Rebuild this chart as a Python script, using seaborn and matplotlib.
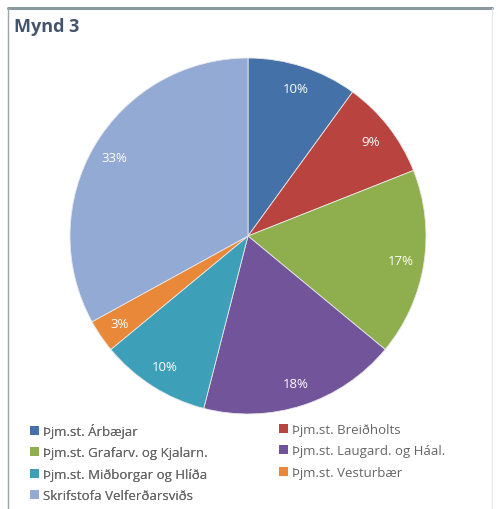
import matplotlib
matplotlib.use("Agg")
import matplotlib.pyplot as plt
import seaborn as sns
from matplotlib.patches import Patch
from matplotlib.lines import Line2D

categories = ["Þjm.st. Árbæjar", "Þjm.st. Breiðholts", "Þjm.st. Grafarv. og Kjalarn.",
              "Þjm.st. Laugard. og Háal.", "Þjm.st. Miðborgar og Hlíða", "Þjm.st. Vesturbær",
              "Skrifstofa Velferðarsviðs"]
values = [10, 9, 17, 18, 10, 3, 33]
title = "Mynd 3"

sns.set_theme(style="white")
plt.rcParams["font.family"] = ["Open Sans", "DejaVu Sans"]

colors = sns.color_palette(["#4471a8", "#b9433f", "#8fae4d", "#72549b",
                            "#3e9fb8", "#e98838", "#93aad4"])

fig = plt.figure(figsize=(4.98, 5.10), dpi=100)
fig.patch.set_facecolor("white")

W, H = 498, 510
cx, cy, r = 248, 237, 178
ax = fig.add_axes([(cx - r) / W, (H - cy - r) / H, 2 * r / W, 2 * r / H])
wedges, texts, autotexts = ax.pie(
    values, colors=colors, startangle=90, counterclock=False,
    autopct=lambda p: f"{p:.0f}%", pctdistance=0.87,
    wedgeprops=dict(edgecolor="#e8e8e8", linewidth=0.6),
    textprops=dict(color="white", fontsize=9.5))
ax.set_xlim(-1, 1)
ax.set_ylim(-1, 1)
ax.set_aspect("equal")
ax.axis("off")

# frame
fig.add_artist(Line2D([8 / W, 492 / W], [1 - 9 / H, 1 - 9 / H], transform=fig.transFigure,
                      color="#8a999f", linewidth=2.2))
fig.add_artist(Line2D([8 / W, 8 / W], [1 - 9 / H, 0], transform=fig.transFigure,
                      color="#9aa6ac", linewidth=1.0))
fig.add_artist(Line2D([492 / W, 492 / W], [1 - 9 / H, 0], transform=fig.transFigure,
                      color="#e4e8ea", linewidth=0.8))

fig.text(14 / W, 1 - 27 / H, title, fontsize=13, fontweight="bold", color="#44546a",
         va="center", ha="left")

handles = [Patch(facecolor=c, edgecolor="none") for c in colors]
left_idx = [0, 2, 4, 6]
right_idx = [1, 3, 5]
common = dict(frameon=False, fontsize=9.5, handlelength=0.65, handleheight=0.65,
              handletextpad=0.35, labelspacing=0.64, borderaxespad=0, borderpad=0,
              labelcolor="#666666", loc="upper left")
leg1 = fig.legend([handles[i] for i in left_idx], [categories[i] for i in left_idx],
                  bbox_to_anchor=(30 / W, 1 - 424 / H), **common)
fig.add_artist(leg1)
leg2 = fig.legend([handles[i] for i in right_idx], [categories[i] for i in right_idx],
                  bbox_to_anchor=(279 / W, 1 - 424 / H), **common)

fig.savefig("out.png", dpi=100, facecolor="white")
